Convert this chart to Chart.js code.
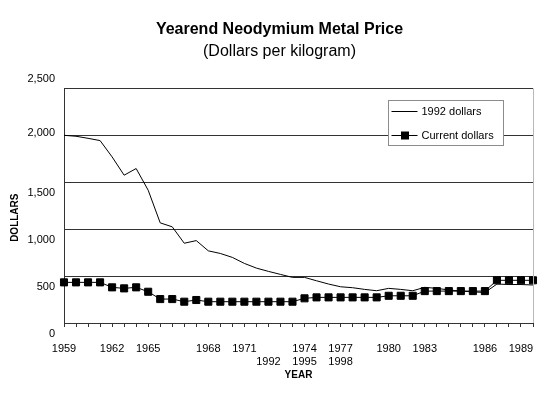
<!DOCTYPE html>
<html>
<head>
<meta charset="utf-8">
<script src="https://cdn.jsdelivr.net/npm/chart.js@4"></script>
<style>
  body { margin: 0; background: #fff; }
  canvas { display: block; }
</style>
</head>
<body>
<canvas id="chart" width="548" height="397"></canvas>
<script>
// Yearend neodymium metal price, dollars per kilogram
const years = [
  '1959', '1960', '1961', '1962', '1963', '1964', '1965', '1966', '1967', '1968',
  '1969', '1970', '1971', '1972', '1973', '1974', '1975', '1976', '1977', '1978',
  '1979', '1980', '1981', '1982', '1983', '1984', '1985', '1986', '1987', '1988',
  '1989', '1990', '1991', '1992', '1993', '1994', '1995', '1996', '1997', '1998'
];

// axis labels as printed on the original (they do not sit on their own years)
const yearTickLabels = [
  '1959', '', '', '', '1962', '', '', '1965', '', '',
  '', '', '1968', '', '', '1971', '', ['', '1992'], '', '',
  ['1974', '1995'], '', '', ['1977', '1998'], '', '', '', '1980', '', '',
  '1983', '', '', '', '', '1986', '', '', '1989', ''
];

const dollars1992 = [
  2000, 1990, 1968, 1944, 1770, 1575, 1646, 1415, 1067, 1025,
  850, 878, 769, 741, 699, 635, 585, 550, 518, 486,
  486, 450, 415, 386, 376, 358, 344, 369, 358, 344,
  380, 369, 352, 340, 332, 325, 415, 410, 410, 405
];

const currentDollars = [
  433, 433, 433, 433, 380, 369, 380, 333, 255, 255,
  227, 245, 227, 227, 227, 227, 227, 227, 227, 227,
  263, 273, 273, 273, 273, 273, 273, 290, 290, 290,
  340, 340, 340, 340, 340, 340, 455, 455, 455, 455
];

const seriesNames = ['1992 dollars', 'Current dollars'];

const FONT = "'Liberation Sans', Arial, Helvetica, sans-serif";
Chart.defaults.font.family = FONT;
Chart.defaults.color = '#000';

/**
 * Marco: borde derecho gris, titulo vertical y leyenda con caja
 */
const framePlugin = {
  id: 'frame',
  afterDatasetsDraw(chart) {
    const { ctx, chartArea } = chart;
    ctx.save();

    // borde derecho
    ctx.strokeStyle = '#b8b8b8';
    ctx.lineWidth = 1;
    ctx.beginPath();
    ctx.moveTo(chartArea.right + 0.5, chartArea.top);
    ctx.lineTo(chartArea.right + 0.5, chartArea.bottom);
    ctx.stroke();

    // titulo eje Y
    ctx.fillStyle = '#000';
    ctx.font = 'bold 10px ' + FONT;
    ctx.textAlign = 'center';
    ctx.textBaseline = 'middle';
    ctx.translate(15, (chartArea.top + chartArea.bottom) / 2 + 12);
    ctx.rotate(-Math.PI / 2);
    ctx.fillText('DOLLARS', 0, 0);
    ctx.restore();

    // leyenda
    ctx.save();
    const left = Math.round(chartArea.right - 145) + 0.5;
    const top = Math.round(chartArea.top + 12) + 0.5;
    ctx.fillStyle = '#fff';
    ctx.fillRect(left, top, 115, 45);
    ctx.strokeStyle = '#8c8c8c';
    ctx.strokeRect(left, top, 115, 45);

    ctx.font = '11px ' + FONT;
    ctx.textAlign = 'left';
    ctx.textBaseline = 'middle';
    chart.data.datasets.forEach((ds, i) => {
      const y = Math.round(top + 10 + i * 24) + 0.5;
      ctx.strokeStyle = ds.borderColor;
      ctx.lineWidth = 1;
      ctx.beginPath();
      ctx.moveTo(left + 3, y);
      ctx.lineTo(left + 29, y);
      ctx.stroke();
      if (ds.pointRadius > 0) {
        ctx.fillStyle = ds.pointBackgroundColor;
        ctx.fillRect(left + 12.5, y - 4, 8, 8);
      }
      ctx.fillStyle = '#000';
      ctx.fillText(ds.label, left + 33, y);
    });
    ctx.restore();
  }
};

new Chart(document.getElementById('chart'), {
  type: 'line',
  data: {
    labels: years,
    datasets: [
      {
        label: seriesNames[0],
        data: dollars1992,
        borderColor: '#000',
        borderWidth: 1,
        pointRadius: 0,
        tension: 0
      },
      {
        label: seriesNames[1],
        data: currentDollars,
        borderColor: '#000',
        borderWidth: 1,
        pointStyle: 'rect',
        pointRadius: 5,
        pointBorderWidth: 1,
        pointBackgroundColor: '#000',
        pointBorderColor: '#000',
        tension: 0
      }
    ]
  },
  options: {
    responsive: false,
    animation: false,
    devicePixelRatio: 1,
    layout: {
      padding: { left: 24, right: 13, top: 0, bottom: 0 }
    },
    plugins: {
      legend: { display: false },
      tooltip: { enabled: false },
      title: {
        display: true,
        text: 'Yearend Neodymium Metal Price',
        color: '#000',
        font: { size: 16, weight: 'bold' },
        padding: { top: 20, bottom: 3 }
      },
      subtitle: {
        display: true,
        text: '(Dollars per kilogram)',
        color: '#000',
        font: { size: 16, weight: 'normal' },
        padding: { top: 0, bottom: 27 }
      }
    },
    scales: {
      x: {
        type: 'category',
        offset: false,
        grid: {
          drawOnChartArea: false,
          drawTicks: true,
          tickLength: 4,
          color: '#333'
        },
        border: { color: '#333' },
        ticks: {
          autoSkip: false,
          maxRotation: 0,
          minRotation: 0,
          padding: 15,
          color: '#000',
          font: { size: 11 },
          callback: (value, index) => yearTickLabels[index]
        },
        title: {
          display: true,
          text: 'YEAR',
          color: '#000',
          font: { size: 10, weight: 'bold' },
          padding: { top: 0, bottom: 16 }
        },
        afterFit: (scale) => { scale.height = 74; }
      },
      y: {
        min: 0,
        max: 2500,
        grid: { color: '#333', drawTicks: false },
        border: { color: '#333' },
        ticks: {
          stepSize: 500,
          autoSkip: false,
          padding: 9,
          labelOffset: 10.5,
          color: '#000',
          font: { size: 11 },
          // las etiquetas del original estan corridas respecto a las lineas
          callback: (value) => {
            const text = value.toLocaleString('en-US');
            if (value === 2500) return [text, '', '', ''];
            if (value === 2000) return [text, '', ''];
            return text;
          }
        },
        afterFit: (scale) => { scale.width = 40; }
      }
    }
  },
  plugins: [framePlugin]
});
</script>
</body>
</html>
